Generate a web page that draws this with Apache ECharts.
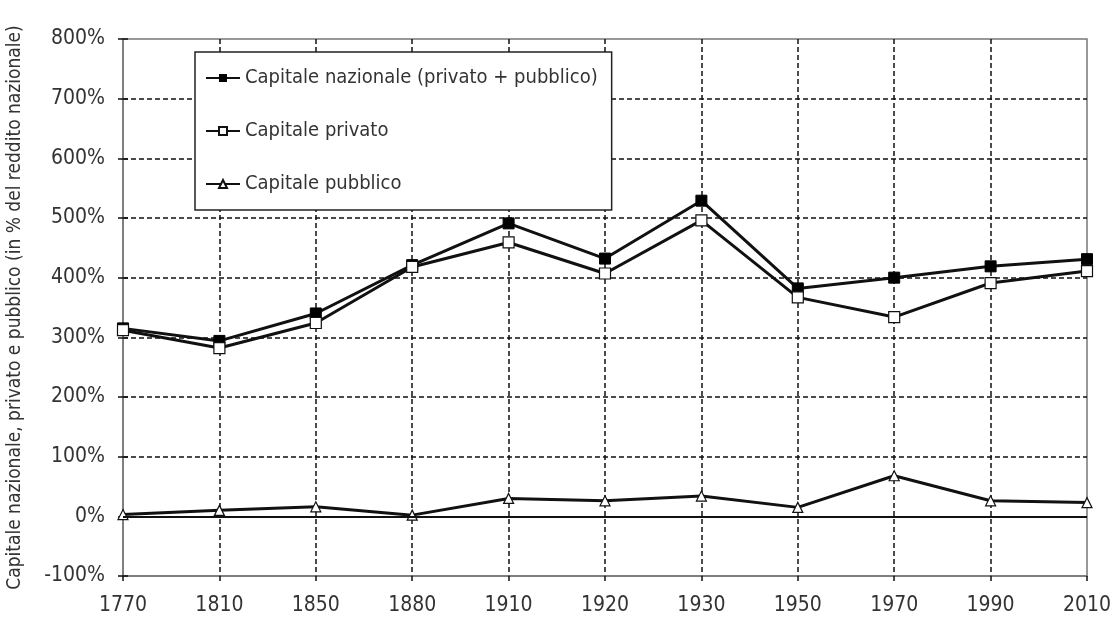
<!DOCTYPE html>
<html>
<head>
<meta charset="utf-8">
<script src="https://cdn.jsdelivr.net/npm/echarts@6/dist/echarts.min.js"></script>
<style>
  html, body { margin: 0; padding: 0; background: #fff; }
  #myChart { width: 1116px; height: 621px; }
</style>
</head>
<body>
<div id="myChart"></div>
<script>
// anni sull'asse x
var anni = ['1770', '1810', '1850', '1880', '1910', '1920', '1930', '1950', '1970', '1990', '2010'];
// valori in % del reddito nazionale
var capitaleNazionale = [315, 294, 340, 421, 491, 432, 529, 382, 400, 419, 431];
var capitalePrivato = [312, 282, 324, 418, 459, 407, 496, 367, 334, 391, 411];
var capitalePubblico = [3, 10, 16, 2, 30, 26, 34, 15, 68, 26, 23];

var font = '"Liberation Sans Narrow", "DejaVu Sans Condensed", "Roboto", sans-serif';
var nomi = ['Capitale nazionale (privato + pubblico)', 'Capitale privato', 'Capitale pubblico'];

// griglia tratteggiata, senza le linee sui bordi (li disegna il bordo grigio)
var coloriX = anni.map(function (a, i) { return (i === 0 || i === anni.length - 1) ? 'rgba(0,0,0,0)' : '#111'; });
var coloriY = [];
for (var v = -100; v <= 800; v += 100) {
  coloriY.push((v === -100 || v === 800) ? 'rgba(0,0,0,0)' : '#111');
}

var myChart = echarts.init(document.getElementById('myChart'));
myChart.setOption({
  animation: false,
  textStyle: { fontFamily: font },
  grid: {
    left: 123, right: 29, top: 39, bottom: 45,
    containLabel: false,
    outerBoundsMode: 'none',
    show: true, borderColor: '#777', borderWidth: 1.5, backgroundColor: '#fff'
  },
  legend: {
    orient: 'vertical',
    left: 195, top: 52,
    padding: [16, 14, 16, 10],
    itemGap: 33,
    itemWidth: 34, itemHeight: 10,
    backgroundColor: '#fff',
    borderColor: '#222', borderWidth: 1.5,
    textStyle: { fontSize: 20, color: '#333', fontFamily: font },
    data: nomi
  },
  xAxis: {
    type: 'category',
    boundaryGap: false,
    data: anni,
    axisLine: { show: true, onZero: false, lineStyle: { color: '#777', width: 1.5 } },
    axisTick: { show: true, length: 5, lineStyle: { color: '#111', width: 1.5 } },
    axisLabel: { fontSize: 21, color: '#333', margin: 19 },
    splitLine: { show: true, lineStyle: { color: coloriX, type: [5, 3], width: 1.5 } }
  },
  yAxis: [{
    type: 'value',
    min: -100, max: 800, interval: 100,
    name: 'Capitale nazionale, privato e pubblico (in % del reddito nazionale)',
    nameLocation: 'middle',
    nameGap: 98,
    nameTextStyle: { fontSize: 19, color: '#333' },
    axisLine: { show: true, lineStyle: { color: '#777', width: 1.5 } },
    axisTick: { show: true, length: 5, lineStyle: { color: '#111', width: 1.5 } },
    axisLabel: { formatter: '{value}%', fontSize: 21, color: '#333', margin: 18 },
    splitLine: { show: true, lineStyle: { color: coloriY, type: [5, 3], width: 1.5 } }
  }, {
    // tacche interne per fare la crocetta sull'asse
    type: 'value',
    position: 'left',
    min: -100, max: 800, interval: 100,
    axisLine: { show: false },
    axisTick: { show: true, inside: true, length: 5, lineStyle: { color: '#111', width: 1.5 } },
    axisLabel: { show: false },
    splitLine: { show: false }
  }],
  series: [{
    name: nomi[0],
    type: 'line',
    data: capitaleNazionale,
    symbol: 'rect', symbolSize: 11,
    itemStyle: { color: '#000', borderColor: '#000' },
    lineStyle: { color: '#111', width: 3 }
  }, {
    name: nomi[1],
    type: 'line',
    data: capitalePrivato,
    symbol: 'rect', symbolSize: 11,
    itemStyle: { color: '#fff', borderColor: '#111', borderWidth: 1.2 },
    lineStyle: { color: '#111', width: 3 }
  }, {
    name: nomi[2],
    type: 'line',
    data: capitalePubblico,
    symbol: 'triangle', symbolSize: 10,
    itemStyle: { color: '#fff', borderColor: '#111', borderWidth: 1.2 },
    lineStyle: { color: '#111', width: 3 },
    markLine: {
      silent: true,
      symbol: 'none',
      label: { show: false },
      lineStyle: { color: '#111', type: 'solid', width: 2 },
      data: [{ yAxis: 0 }]
    }
  }]
});
</script>
</body>
</html>
